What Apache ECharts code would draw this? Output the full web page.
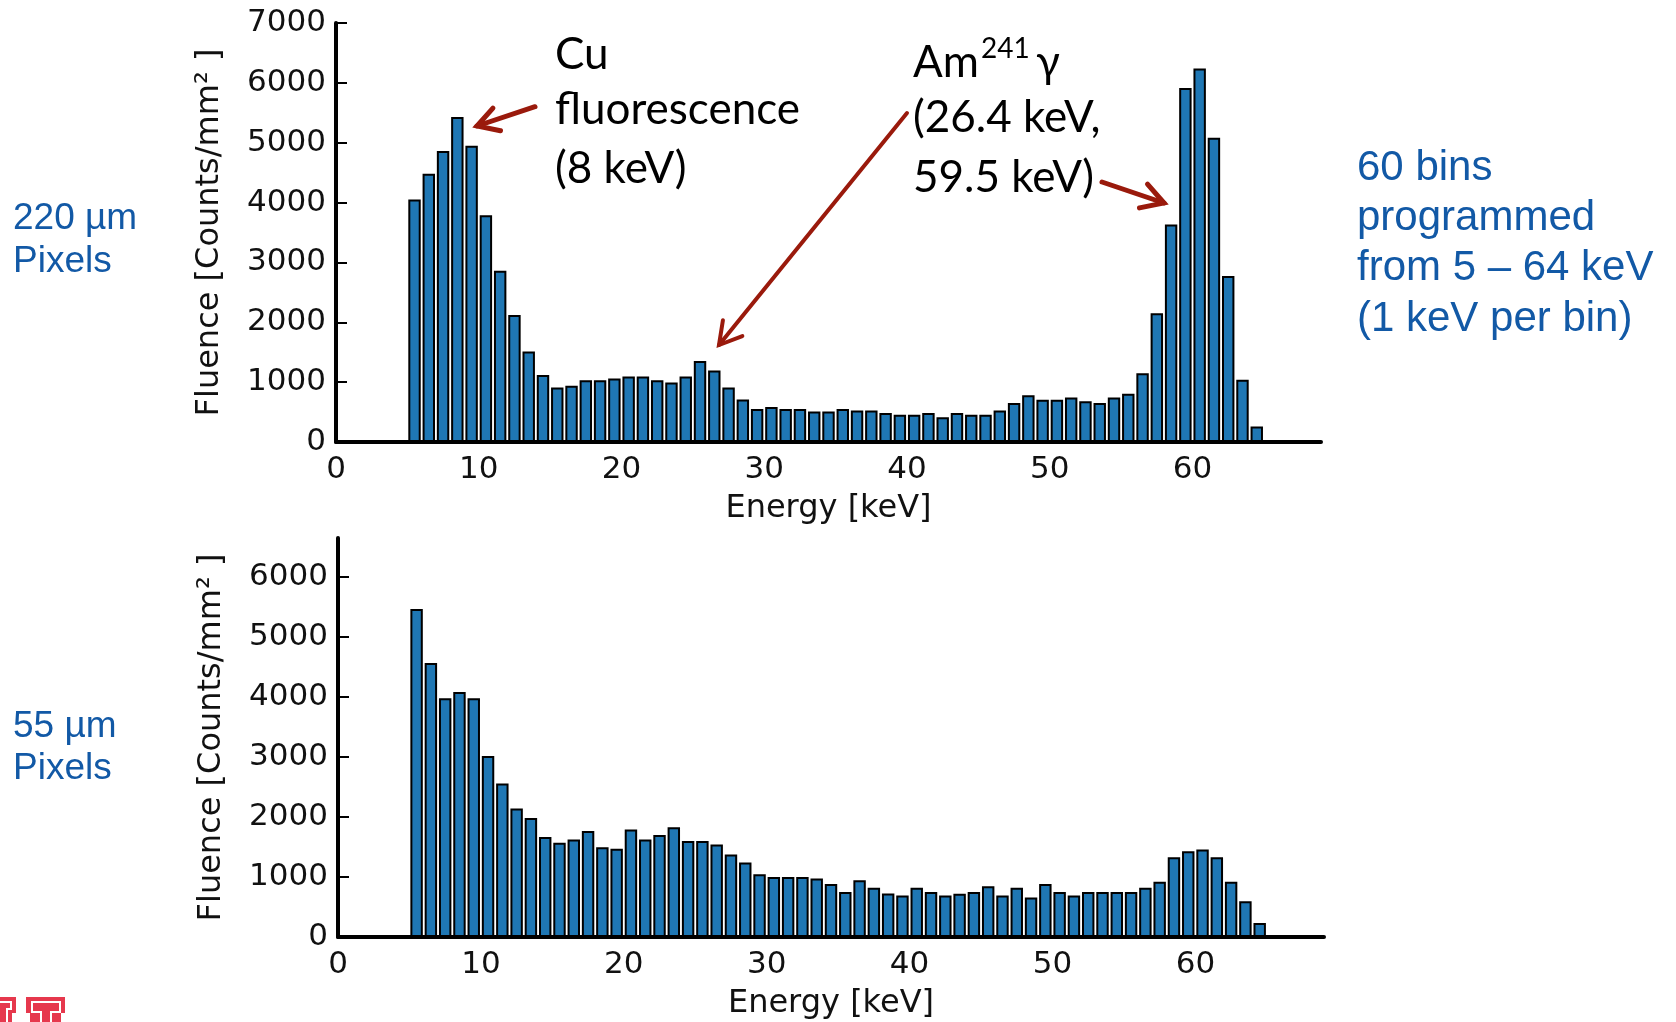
<!DOCTYPE html>
<html><head><meta charset="utf-8">
<script src="https://cdn.jsdelivr.net/npm/echarts@6/dist/echarts.min.js"></script>
<style>html,body{margin:0;padding:0;background:#fff}#c{width:1676px;height:1022px}</style>
</head><body><div id="c"></div>
<script>
// Bin lower edges (keV): 60 bins of 1 keV from 5 to 64
const energies = [5,6,7,8,9,10,11,12,13,14,15,16,17,18,19,20,21,22,23,24,25,26,27,28,29,30,31,32,33,34,
  35,36,37,38,39,40,41,42,43,44,45,46,47,48,49,50,51,52,53,54,55,56,57,58,59,60,61,62,63,64];
// 220 um pixels
const fluence220 = [4050,4480,4860,5430,4950,3790,2860,2120,1510,1120,910,940,1030,1030,1060,1095,1095,1030,995,1095,
  1355,1195,910,710,550,585,550,550,510,510,550,525,525,485,455,455,485,415,485,455,
  455,525,650,780,705,705,745,680,650,745,805,1150,2150,3635,5915,6240,5085,2775,1040,260];
// 55 um pixels
const fluence55 = [5465,4565,3980,4085,3980,3015,2560,2140,1985,1665,1570,1625,1765,1495,1470,1790,1625,1700,1830,1600,
  1600,1540,1375,1240,1045,1000,1000,1000,975,885,750,945,820,725,690,820,750,690,720,750,
  845,690,820,660,885,750,690,750,750,750,750,820,920,1330,1430,1460,1330,920,595,235];
const xTicks = [0,10,20,30,40,50,60];
const yTicksTop = [0,1000,2000,3000,4000,5000,6000,7000];
const yTicksBottom = [0,1000,2000,3000,4000,5000,6000];

const chart = echarts.init(document.getElementById('c'));
const tickFont = {fontFamily:'DejaVu Sans', fontSize:31, color:'#111'};
const nameFont = {fontFamily:'DejaVu Sans', fontSize:32, color:'#111'};
const BAR = '#1f77b4';
const plain = v => String(v);

function xAxis(gi){
  return {type:'value', gridIndex:gi, min:0, max:69, interval:10,
    name:'Energy [keV]', nameLocation:'middle', nameGap:51, nameTextStyle:nameFont,
    axisLine:{show:true, lineStyle:{color:'#000', width:4}},
    axisTick:{show:false},
    axisLabel:Object.assign({margin:12, customValues:xTicks, formatter:plain}, tickFont),
    splitLine:{show:false}};
}
function yAxis(gi, max, ticks){
  return {type:'value', gridIndex:gi, min:0, max:max, interval:1000,
    name:'Fluence [Counts/mm² ]', nameLocation:'middle', nameGap:110, nameTextStyle:nameFont,
    axisLine:{show:true, lineStyle:{color:'#000', width:4}},
    axisTick:{show:true, inside:true, length:11, lineStyle:{color:'#000', width:2}, customValues:ticks},
    axisLabel:Object.assign({margin:10, customValues:ticks, formatter:plain}, tickFont),
    splitLine:{show:false}};
}
function barSeries(gi, vals){
  return {type:'bar', xAxisIndex:gi, yAxisIndex:gi, barWidth:'87%',
    data: energies.map((e,i)=>[e+0.5, vals[i]]),
    itemStyle:{color:BAR, borderColor:'#000', borderWidth:2},
    animation:false, silent:true};
}

function arrow(x1,y1,x2,y2,w,head){
  const a = Math.atan2(y2-y1, x2-x1);
  const sp = Math.PI/6;
  const p1 = [x2 - head*Math.cos(a-sp), y2 - head*Math.sin(a-sp)];
  const p2 = [x2 - head*Math.cos(a+sp), y2 - head*Math.sin(a+sp)];
  const st = {stroke:'#9a1a0c', lineWidth:w, lineCap:'round', lineJoin:'miter', fill:null};
  return [
    {type:'line', shape:{x1:x1,y1:y1,x2:x2,y2:y2}, style:st},
    {type:'polyline', shape:{points:[p1,[x2,y2],p2]}, style:st}
  ];
}
function txt(x,y,s,font,size,color,extra){
  return {type:'text', x:x, y:y, style:Object.assign({text:s, fontFamily:font, fontSize:size, fill:color,
    textAlign:'left', textVerticalAlign:'middle'}, extra||{})};
}
const BLUE = '#1259a6';
const ann = 'Lato';
const graphics = [].concat(
  [
    txt(13,219,'220 µm','Liberation Sans',37,BLUE),
    txt(13,262,'Pixels','Liberation Sans',37,BLUE),
    txt(13,727,'55 µm','Liberation Sans',37,BLUE),
    txt(13,769,'Pixels','Liberation Sans',37,BLUE),
    txt(1357,168,'60 bins','Liberation Sans',42,BLUE),
    txt(1357,218,'programmed','Liberation Sans',42,BLUE),
    txt(1357,268,'from 5 – 64 keV','Liberation Sans',42,BLUE),
    txt(1357,319,'(1 keV per bin)','Liberation Sans',42,BLUE),
    txt(555,55,'Cu',ann,44,'#000'),
    txt(555,110,'fluorescence',ann,44,'#000'),
    txt(555,169,'(8 keV)',ann,44,'#000'),
    txt(913,63,'Am',ann,44,'#000'),
    txt(981,49,'241',ann,28,'#000'),
    txt(1036,63,'γ',ann,44,'#000'),
    txt(913,118,'(26.4 keV,',ann,44,'#000'),
    txt(913,178,'59.5 keV)',ann,44,'#000'),
    // logo fragment (bottom-left)
    {type:'polygon', shape:{points:[[0,997],[16,997],[16,1013],[12,1013],[12,1022],[0,1022]]}, style:{fill:'#e6384d'}},
    {type:'polyline', shape:{points:[[0,1002],[11,1002],[11,1009],[7,1009],[7,1022]]}, style:{stroke:'#fff', lineWidth:2, fill:null}},
    {type:'polygon', shape:{points:[[26,997],[65,997],[65,1013],[61,1013],[61,1022],[30,1022],[30,1013],[26,1013]]}, style:{fill:'#e6384d'}},
    {type:'polyline', shape:{points:[[41,1022],[41,1012],[32,1012],[32,1002],[60,1002],[60,1012],[51,1012],[51,1022]]}, style:{stroke:'#fff', lineWidth:2, fill:null}}
  ],
  arrow(535,106.7,477,126,5,24),
  arrow(907,113,719,345,4,25),
  arrow(1102,182,1164,203,5,25)
);

chart.setOption({
  animation:false,
  backgroundColor:'#fff',
  grid:[
    {left:336, top:23, width:985, height:419, containLabel:false},
    {left:338, top:538, width:986, height:399, containLabel:false}
  ],
  xAxis:[xAxis(0), xAxis(1)],
  yAxis:[yAxis(0,7000,yTicksTop), yAxis(1,6650,yTicksBottom)],
  series:[barSeries(0,fluence220), barSeries(1,fluence55)],
  graphic:graphics
});
</script></body></html>
